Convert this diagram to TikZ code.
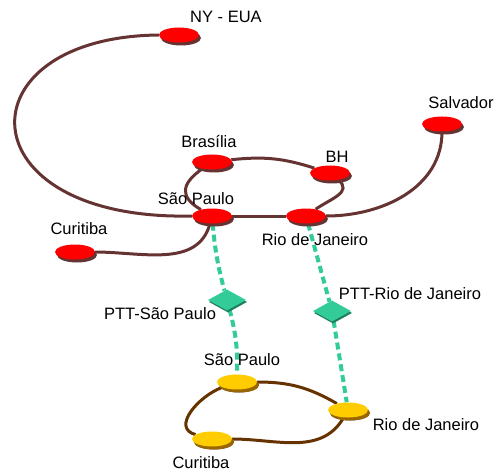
\documentclass[tikz,border=0pt]{standalone}
\usepackage{fontspec}
\setmainfont{Liberation Sans}
\usepackage{tikz}
\usetikzlibrary{shapes.geometric,shadows,backgrounds}

\definecolor{wine}{HTML}{663333}
\definecolor{rust}{HTML}{663300}
\definecolor{mint}{HTML}{33CC99}
\definecolor{darkmint}{HTML}{1F8060}
\definecolor{gold}{HTML}{FFCC00}
\definecolor{darkgold}{HTML}{996600}

\begin{document}
\begin{tikzpicture}[x=1pt,y=-1pt,font=\fontsize{16.5}{19}\selectfont,
  router/.style={ellipse,minimum width=40pt,minimum height=15pt,inner sep=0pt,fill=red,
    drop shadow={shadow xshift=2pt,shadow yshift=-3pt,fill=wine,opacity=1}},
  local/.style={router,fill=gold,drop shadow={shadow xshift=2pt,shadow yshift=-3pt,fill=darkgold,opacity=1}},
  ptt/.style={diamond,aspect=1.8,minimum width=38pt,minimum height=21pt,inner sep=0pt,fill=mint,
    drop shadow={shadow xshift=1pt,shadow yshift=-2pt,fill=darkmint,opacity=1}},
  trunk/.style={draw=wine,line width=3pt},
  ring/.style={draw=rust,line width=3pt},
  uplink/.style={draw=mint,line width=4pt,dash pattern=on 7pt off 4pt},
  lbl/.style={inner sep=0pt}]
  \useasboundingbox (0,0) rectangle (500,473);

  % backbone
  \node[router] (ny)  at (179,35)  {};
  \node[router] (ssa) at (442,124) {};
  \node[router] (bsb) at (212,162) {};
  \node[router] (bh)  at (330,173) {};
  \node[router] (sp)  at (212,216) {};
  \node[router] (rj)  at (306,216) {};
  \node[router] (cwb) at (75,252)  {};

  % ptt
  \node[ptt] (pttsp) at (227,300) {};
  \node[ptt] (pttrj) at (332,311) {};

  % local ring
  \node[local] (sp2)  at (237,382) {};
  \node[local] (rj2)  at (348,410) {};
  \node[local] (cwb2) at (212,439) {};

  \node[lbl] (nyl)    at (226,17)  {NY - EUA};
  \node[lbl] (ssal)   at (461,103) {Salvador};
  \node[lbl] (bsbl)   at (209,142) {Brasília};
  \node[lbl] (bhl)    at (337,157) {BH};
  \node[lbl] (spl)    at (196,199) {São Paulo};
  \node[lbl] (rjl)    at (315,240) {Rio de Janeiro};
  \node[lbl] (cwbl)   at (79,229)  {Curitiba};
  \node[lbl] (pttspl) at (160,314) {PTT-São Paulo};
  \node[lbl] (pttrjl) at (410,294) {PTT-Rio de Janeiro};
  \node[lbl] (sp2l)   at (242,360) {São Paulo};
  \node[lbl] (rj2l)   at (426,425) {Rio de Janeiro};
  \node[lbl] (cwb2l)  at (201,463) {Curitiba};

  \begin{scope}[on background layer]
    \draw[trunk] (ny.west) .. controls (-40,37) and (-37,221) .. (sp.west);
    \path[trunk] (sp) edge (rj)
      (rj) edge [out=0,in=-90] (ssa)
      (bsb) edge [bend left=12] (bh)
      (bsb) edge [out=215,in=150,looseness=1.6] (sp)
      (bh) edge [out=-40,in=35,looseness=1.3] (rj)
      (sp) edge [out=-105,in=0] (cwb);
    \path[ring] (sp2) edge [out=0,in=150] (rj2)
      (rj2) edge [out=-120,in=0] (cwb2)
      (cwb2) edge [out=165,in=200,looseness=1.2] (sp2);
    \path[uplink] (sp) edge [bend right=5] (pttsp)
      (pttsp) edge [bend left=8] (sp2)
      (rj) edge (pttrj)
      (pttrj) edge (rj2);
  \end{scope}
\end{tikzpicture}
\end{document}
